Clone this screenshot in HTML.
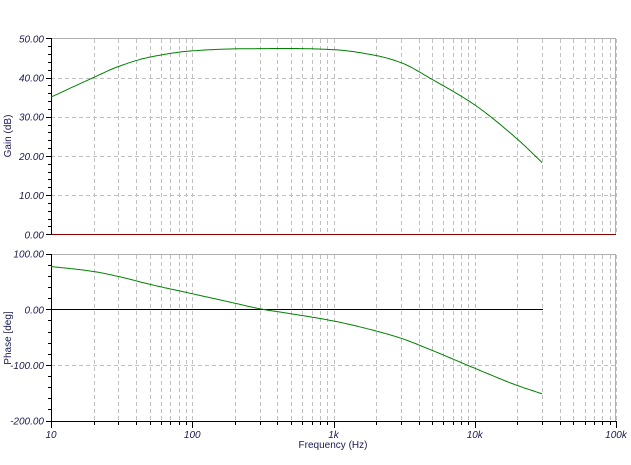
<!DOCTYPE html>
<html><head><style>
body{margin:0;background:#fff;}
svg text{font-family:"Liberation Sans",sans-serif;font-size:10px;fill:#1a1a50;}
.yl{font-style:italic;text-anchor:end;}
</style></head><body>
<svg id="s" width="631" height="460" xmlns="http://www.w3.org/2000/svg"></svg>
<script>
const s=document.getElementById('s');
const X0=51,DW=141.25;
const fx=f=>X0+Math.log10(f/10)*DW;
const gy=v=>234.3-v*3.92;
const py=v=>309.3-v*0.556;
let h='';
function L(x1,y1,x2,y2,c,w,d){h+=`<line x1="${x1}" y1="${y1}" x2="${x2}" y2="${y2}" stroke="${c}" stroke-width="${w||1}" ${d?'stroke-dasharray="'+d+'"':''} shape-rendering="crispEdges"/>`;}
L(51,38.5,616,38.5,'#b0b0b0');L(615.5,38,615.5,234,'#b0b0b0');
L(51,254.5,616,254.5,'#b0b0b0');L(615.5,254,615.5,421,'#b0b0b0');
for(let d=0;d<4;d++)for(let m=1;m<=10;m++){if(d==0&&m==1)continue;const x=Math.round(fx(10*Math.pow(10,d)*m))+0.5;
 L(x,39,x,234,'#c0c0c0',1,'4,3');L(x,255,x,421,'#c0c0c0',1,'4,3');}
for(let v=10;v<50;v+=10){const y=Math.round(gy(v))+0.5;L(51,y,616,y,'#c0c0c0',1,'4,3');}
for(let v of [-100]){const y=Math.round(py(v))+0.5;L(51,y,616,y,'#c0c0c0',1,'4,3');}
L(51,234.5,616,234.5,'#8b0000',1.2);L(51,309.5,543,309.5,'#000',1);
L(51.5,38,51.5,235,'#000');L(51.5,254,51.5,422,'#000');
for(let v=0;v<=50;v+=2){const y=Math.round(gy(v))+0.5;L(v%10==0?46:48,y,51,y,'#000');}
for(let v=-200;v<=100;v+=20){const y=Math.round(py(v))+0.5;L(v%100==0?46:48,y,51,y,'#000');}
L(51,421.5,616,421.5,'#000');
for(let d=0;d<=4;d++)for(let m=1;m<=9;m++){if(d==4&&m>1)break;const x=Math.round(fx(10*Math.pow(10,d)*m))+0.5;L(x,421,x,m==1?428:425,'#000');}
[50,40,30,20,10,0].forEach(v=>h+=`<text class="yl" x="44" y="${gy(v)+4}">${v.toFixed(2)}</text>`);
[[100,'100.00'],[0,'0.00'],[-100,'-100.00'],[-200,'-200.00']].forEach(a=>h+=`<text class="yl" x="44" y="${py(a[0])+4}">${a[1]}</text>`);
[['10',10],['100',100],['1k',1e3],['10k',1e4],['100k',1e5]].forEach(a=>h+=`<text style="font-style:italic" text-anchor="middle" x="${fx(a[1])}" y="438">${a[0]}</text>`);
h+=`<text text-anchor="middle" x="333" y="448">Frequency (Hz)</text>`;
h+=`<text text-anchor="middle" transform="translate(11,136) rotate(-90)">Gain (dB)</text>`;
h+=`<text text-anchor="middle" transform="translate(11,338) rotate(-90)">Phase [deg]</text>`;
const G=[[10,35],[20,40],[30,42.8],[50,45.2],[100,46.8],[200,47.3],[500,47.4],[1000,47.1],[2000,45.6],[3000,43.8],[5000,39.5],[10000,33],[20000,24.3],[30000,18.3]];
const P=[[10,77],[20,68],[30,59],[50,45],[100,28],[200,11],[300,1],[500,-8],[1000,-21],[2000,-39],[3000,-52],[5000,-74],[10000,-106],[20000,-137],[30000,-152]];
function curve(pts,yf){
 const n=pts.length,x=pts.map(p=>Math.log10(p[0])),y=pts.map(p=>p[1]);
 const d=[],m=[];for(let i=0;i<n-1;i++)d.push((y[i+1]-y[i])/(x[i+1]-x[i]));
 m[0]=d[0];m[n-1]=d[n-2];
 for(let i=1;i<n-1;i++){if(d[i-1]*d[i]<=0)m[i]=0;else{const w1=2*(x[i+1]-x[i])+(x[i]-x[i-1]),w2=(x[i+1]-x[i])+2*(x[i]-x[i-1]);m[i]=(w1+w2)/(w1/d[i-1]+w2/d[i]);}}
 let out=[];
 for(let i=0;i<n-1;i++){const hh=x[i+1]-x[i];
  for(let t=0;t<1;t+=0.05){const t2=t*t,t3=t2*t;
   const v=(2*t3-3*t2+1)*y[i]+(t3-2*t2+t)*hh*m[i]+(-2*t3+3*t2)*y[i+1]+(t3-t2)*hh*m[i+1];
   const xx=x[i]+t*hh;
   out.push((X0+(xx-1)*DW).toFixed(1)+','+yf(v).toFixed(1));}}
 out.push(fx(pts[n-1][0]).toFixed(1)+','+yf(y[n-1]).toFixed(1));
 return `<polyline fill="none" stroke="#008000" stroke-width="1" points="${out.join(' ')}"/>`;}
h+=curve(G,gy)+curve(P,py);
s.innerHTML=h;
</script>
</body></html>
